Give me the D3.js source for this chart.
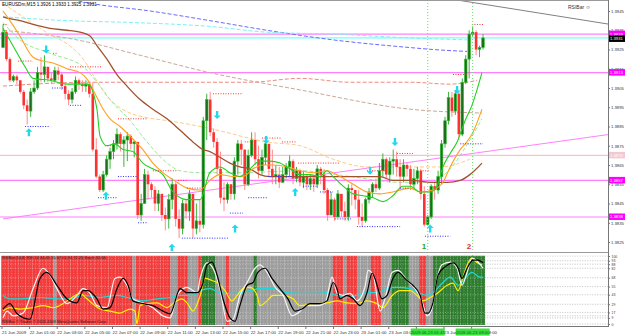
<!DOCTYPE html>
<html><head><meta charset="utf-8">
<script src="https://cdn.jsdelivr.net/npm/d3@7"></script>
<style>
body{margin:0;background:#fff;}
svg{display:block;font-family:"Liberation Sans",Arial,sans-serif;}
</style>
</head><body>
<script>
// EURUSDm M15 - candles
const open0 = 1.3926
const closes = [1.3934,1.3920,1.3909,1.3911,1.3909,1.3903,1.3896,1.3893,1.3903,1.3905,
1.3913,1.3912,1.3916,1.3910,1.3909,1.3914,1.3912,1.3906,1.3902,1.3899,
1.3903,1.3909,1.3907,1.3906,1.3907,1.3902,1.3873,1.3859,1.3852,1.3860,
1.3868,1.3872,1.3876,1.3881,1.3876,1.3878,1.3880,1.3876,1.3877,1.3839,
1.3845,1.3860,1.3855,1.3852,1.3845,1.3850,1.3839,1.3837,1.3847,1.3855,
1.3837,1.3832,1.3845,1.3841,1.3850,1.3832,1.3836,1.3834,1.3888,1.3899,
1.3882,1.3877,1.3863,1.3848,1.3847,1.3855,1.3850,1.3867,1.3876,1.3873,
1.3855,1.3870,1.3878,1.3868,1.3862,1.3869,1.3876,1.3863,1.3859,1.3860,
1.3856,1.3860,1.3864,1.3867,1.3858,1.3862,1.3856,1.3859,1.3855,1.3858,
1.3855,1.3863,1.3860,1.3852,1.3839,1.3847,1.3838,1.3850,1.3841,1.3838,
1.3853,1.3852,1.3847,1.3838,1.3836,1.3847,1.3851,1.3855,1.3853,1.3862,
1.3868,1.3860,1.3867,1.3868,1.3864,1.3859,1.3865,1.3863,1.3855,1.3858,
1.3862,1.3850,1.3834,1.3838,1.3854,1.3852,1.3859,1.3876,1.3888,1.3900,
1.3893,1.3902,1.3881,1.3908,1.3920,1.3933,1.3934,1.3925,1.3926,1.3931]
const highs = [1.3938,1.3935,1.3921,1.3912,1.3912,1.3909,1.3904,1.3899,1.3905,1.3909,
1.3916,1.3921,1.3922,1.3916,1.3913,1.3916,1.3916,1.3913,1.3908,1.3904,
1.3905,1.3911,1.3910,1.3909,1.3909,1.3908,1.3908,1.3879,1.3860,1.3862,
1.3870,1.3874,1.3878,1.3884,1.3882,1.3880,1.3882,1.3881,1.3878,1.3877,
1.3850,1.3863,1.3862,1.3856,1.3854,1.3852,1.3850,1.3843,1.3850,1.3858,
1.3856,1.3842,1.3847,1.3847,1.3852,1.3850,1.3845,1.3847,1.3890,1.3902,
1.3903,1.3884,1.3879,1.3872,1.3856,1.3856,1.3855,1.3869,1.3878,1.3878,
1.3873,1.3873,1.3882,1.3882,1.3875,1.3873,1.3879,1.3876,1.3873,1.3865,
1.3864,1.3864,1.3866,1.3870,1.3868,1.3864,1.3863,1.3862,1.3860,1.3860,
1.3859,1.3865,1.3864,1.3863,1.3853,1.3851,1.3848,1.3852,1.3850,1.3846,
1.3855,1.3855,1.3852,1.3852,1.3845,1.3848,1.3853,1.3856,1.3858,1.3866,
1.3871,1.3869,1.3869,1.3873,1.3872,1.3868,1.3868,1.3866,1.3865,1.3863,
1.3864,1.3863,1.3854,1.3839,1.3855,1.3856,1.3862,1.3878,1.3890,1.3903,
1.3903,1.3904,1.3903,1.3910,1.3922,1.3935,1.3937,1.3935,1.3927,1.3933]
const lows = [1.3926,1.3919,1.3908,1.3908,1.3907,1.3902,1.3894,1.3886,1.3890,1.3902,
1.3904,1.3908,1.3908,1.3908,1.3907,1.3908,1.3909,1.3904,1.3899,1.3896,
1.3897,1.3902,1.3904,1.3903,1.3903,1.3900,1.3872,1.3858,1.3851,1.3851,
1.3859,1.3863,1.3868,1.3873,1.3872,1.3864,1.3867,1.3873,1.3869,1.3837,
1.3836,1.3845,1.3847,1.3848,1.3841,1.3841,1.3836,1.3831,1.3832,1.3842,
1.3833,1.3827,1.3829,1.3837,1.3836,1.3827,1.3829,1.3830,1.3832,1.3878,
1.3880,1.3874,1.3860,1.3845,1.3841,1.3845,1.3847,1.3847,1.3860,1.3865,
1.3852,1.3854,1.3869,1.3865,1.3858,1.3860,1.3865,1.3859,1.3855,1.3855,
1.3853,1.3856,1.3858,1.3859,1.3855,1.3856,1.3854,1.3853,1.3852,1.3852,
1.3851,1.3853,1.3855,1.3850,1.3836,1.3841,1.3836,1.3838,1.3838,1.3836,
1.3836,1.3844,1.3842,1.3834,1.3833,1.3835,1.3845,1.3848,1.3851,1.3852,
1.3859,1.3858,1.3856,1.3860,1.3859,1.3852,1.3856,1.3859,1.3852,1.3853,
1.3855,1.3847,1.3833,1.3834,1.3837,1.3847,1.3850,1.3855,1.3874,1.3886,
1.3890,1.3891,1.3878,1.3880,1.3907,1.3910,1.3932,1.3922,1.3921,1.3925]

const priceTicks = [1.3945,1.3935,1.3925,1.3915,1.3905,1.3895,1.3885,1.3875,1.3865,1.3855,1.3845,1.3835,1.3825]
const timeLabels = ["21 Jun 2009","22 Jun 01:00","22 Jun 03:00","22 Jun 05:00","22 Jun 07:00","22 Jun 09:00",
  "22 Jun 11:00","22 Jun 13:00","22 Jun 15:00","22 Jun 17:00","22 Jun 19:00","22 Jun 21:00","22 Jun 23:00",
  "23 Jun 01:00","23 Jun 03:00","23 Jun 05:00","23 Jun 07:00","23 Jun 09:00"]

// moving averages [bar, price]
const maGreen = [[0,1.3936],[3.5,1.3925],[6.4,1.3916],[8.7,1.3910],[13.6,1.3909],[18.5,1.3907],[24.6,1.3907],[27.2,1.3894],[28.1,1.3880],[30.1,1.3875],[32.4,1.3876],[34.8,1.3873],[37.6,1.3872],[40.5,1.3866],[43.4,1.3863],[46.3,1.3860],[49.2,1.3851],[53.3,1.3847],[57.1,1.3847],[59.9,1.3861],[62.8,1.3864],[65.7,1.3861],[68.6,1.3859],[71.5,1.3863],[74.4,1.3867],[77.3,1.3867],[80.2,1.3866],[83.1,1.3863],[86,1.3860],[88.9,1.3860],[91.8,1.3859],[93.8,1.3862],[95.6,1.3859],[98.5,1.3854],[101.4,1.3850],[104.3,1.3849],[107.2,1.3848],[110,1.3846],[112.9,1.3849],[115.8,1.3854],[117.9,1.3854],[120.8,1.3851],[123.7,1.3851],[125.7,1.3854],[127.4,1.3864],[129.5,1.3871],[131.5,1.3877],[133.8,1.3888],[135.8,1.3896],[138.7,1.3913]]
const maOrange = [[0,1.3945],[2,1.3940],[4.9,1.3932],[8.7,1.3921],[11.6,1.3919],[14.5,1.3918],[18.5,1.3915],[22.3,1.3913],[24.6,1.3909],[26.1,1.3904],[29,1.3894],[31,1.3889],[33.9,1.3885],[36.8,1.3880],[40.5,1.3873],[43.4,1.3866],[46.3,1.3861],[50.4,1.3856],[53.3,1.3853],[57.1,1.3852],[59.9,1.3857],[62.8,1.3860],[66.6,1.3859],[69.5,1.3859],[72.4,1.3863],[75.3,1.3865],[78.2,1.3865],[82.2,1.3864],[86,1.3862],[89.8,1.3861],[93.8,1.3862],[97.6,1.3859],[101.4,1.3855],[105.4,1.3851],[109.2,1.3850],[112.9,1.3851],[117.9,1.3853],[120.8,1.3851],[124.5,1.3852],[127.4,1.3856],[129.5,1.3864],[132.4,1.3873],[134.3,1.3877],[136.1,1.3882],[138.7,1.3894]]
const maBrown = [[0,1.3942],[2,1.3941],[4.9,1.3940],[8.7,1.3938],[13.6,1.3936],[18.5,1.3935],[22.3,1.3934],[25.2,1.3932],[27.2,1.3927],[30.1,1.3920],[33,1.3912],[35.9,1.3906],[39.7,1.3899],[43.4,1.3894],[47.5,1.3889],[51.3,1.3883],[55,1.3877],[57.9,1.3873],[59.9,1.3872],[62.8,1.3869],[65.7,1.3866],[68.6,1.3864],[71.5,1.3863],[74.4,1.3860],[77.3,1.3859],[80.2,1.3859],[88.9,1.3859],[97.6,1.3859],[109.2,1.3859],[112.9,1.3857],[117.9,1.3857],[124.5,1.3856],[128.6,1.3856],[132.4,1.3857],[135.2,1.3860],[138.7,1.3866]]
const maLightGreen = [[0,1.3939],[4.9,1.3930],[13.6,1.3923],[23.2,1.3916],[28.1,1.3906],[31.9,1.3897],[35.9,1.3890],[41.7,1.3877],[47.5,1.3866],[51.3,1.3862],[57.1,1.3861],[68.6,1.3861],[86,1.3862],[100.5,1.3859],[115,1.3856],[123.7,1.3856],[129.5,1.3863],[135.2,1.3878],[138.7,1.3889]]
const maLightOrange = [[0,1.3949],[10.7,1.3936],[22.3,1.3922],[31,1.3899],[36.8,1.3892],[51.3,1.3887],[59.9,1.3884],[76.4,1.3877],[86,1.3875],[95.6,1.3868],[105.4,1.3864],[115,1.3864],[126.6,1.3864],[135.2,1.3868]]
const maTan = [[0,1.3935],[21.4,1.3930],[39.7,1.3922],[59.9,1.3913],[86,1.3904],[117.9,1.3894],[138.7,1.3892]]
const maSalmon = [[0,1.3906],[8.7,1.3907],[28.1,1.3908],[59.9,1.3908],[71.5,1.3908],[86,1.3910],[100.5,1.3908],[117.9,1.3908],[129.5,1.3907],[137.3,1.3909]]
const maBlue = [[10,1.3955],[25.2,1.3949],[42.6,1.3945],[59.9,1.3940],[76.4,1.3935],[95.6,1.3930],[117.9,1.3926],[124.5,1.3925],[134.4,1.3924]]
const maCyan = [[0,1.3942],[18.5,1.3940],[37.6,1.3939],[59.9,1.3937],[76.4,1.3934],[95.6,1.3933],[117.9,1.3931],[134.4,1.3930]]

// horizontal levels on the price axis
const levelPrices = [1.3933, 1.3913, 1.3870, 1.3857, 1.3838, 1.3931]
const levelColors = ["#ff80ff", "#ff80ff", "#f4c4cc", "#ff80ff", "#ff80ff", "#70ffff"]
const levelBoxes = ["#ff00ff", "#ff00ff", "#f2c8d2", "#ff00ff", "#ff00ff", null]

// trend lines [bar, price]
const trendMagenta = [[0,1.3837],[176,1.3881]]
const trendGray = [[120,1.3954],[176,1.3938]]
const vBars = [123, 136]
const vNames = ["1", "2"]
const vStamps = ["2009.06.23 05:45", "2009.06.23 09:00"]

// fractal levels [startBar, endBar, price]
const resLevels = [[0,1.2,1.3938],[4.3,8.7,1.3919],[14.5,15.9,1.3923],[19.4,28.7,1.3916],[29.5,32.4,1.3875],[33.3,41.7,1.3889],[43.4,50.4,1.3862],[50.7,53.3,1.3857],[53.3,57.9,1.3853],[60.8,69.5,1.3902],[70,72.4,1.3877],[75,80.8,1.3879],[80.8,85.1,1.3877],[85.4,97.6,1.3866],[105.4,111.2,1.3862],[114.1,118.7,1.3871],[120.8,123.7,1.3862],[130.3,134.7,1.3912],[135.8,139,1.3938]]
const supLevels = [[6.4,13.6,1.3885],[14.2,18,1.3905],[19.4,22.9,1.3896],[27.5,33,1.3848],[33.3,38.8,1.3859],[39.1,42,1.3835],[51.8,65.2,1.3827],[65.7,69.5,1.3840],[71,76.5,1.3848],[76.7,83.7,1.3859],[86.9,91.2,1.3854],[91.8,95.6,1.3851],[96.1,101.1,1.3837],[102.5,115,1.3833],[115,117.9,1.3853],[122.2,129.5,1.3828],[132.4,139,1.3876]]

// signal arrows [bar, price, direction]
const arrows = [[7.5,1.3882,1],[12.5,1.3925,-1],[29.8,1.3849,1],[48.9,1.3822,1],[62,1.3891,-1],[67.2,1.3832,1],[76.2,1.3878,-1],[84.6,1.3851,1],[106.3,1.3862,-1],[113.5,1.3877,-1],[123.7,1.3832,1],[131.5,1.3904,-1]]

// RSIBar indicator
const stateRuns = [["r",15],["n",1],["r",22],["n",1],["r",10],["n",2],["r",3],["n",3],["r",1],["g",4],["n",3],["r",1],["n",7],["g",1],["n",22],["r",3],["n",1],["r",3],["n",4],["r",3],["n",3],["g",5],["n",3],["r",2],["n",2],["g",15]]
const indLevels = [100,93,88,82,68,55,43,29,17,12,9,0]
const indLabels = [100,93,88,82,68,55,43,29,17,9,0]
const indBlack = [[0,22],[2,30],[4.1,15],[7.8,7],[10.7,67],[12.7,76],[15.6,57],[18.5,37],[21.4,31],[23.2,49],[24.6,49],[27.2,37],[29,22],[31,24],[33,52],[34.8,67],[36.2,57],[37.6,34],[40.5,30],[43.4,27],[46.3,19],[48.4,15],[51.3,52],[53.3,46],[56.2,46],[57.9,60],[59.1,87],[60.5,91],[62,72],[63.7,37],[65.7,9],[67.2,4],[68.6,27],[70.7,57],[72.4,61],[73.8,76],[75.9,82],[77.9,67],[80.2,52],[82.5,37],[84.6,19],[86.6,22],[88.9,30],[91.8,30],[93.8,34],[95.6,61],[96.7,52],[97.6,37],[99.6,42],[101.4,37],[103.4,27],[105.4,46],[106.9,75],[107.7,67],[109.8,37],[111.2,42],[112.9,67],[114.4,76],[117,64],[118.7,57],[120.8,42],[122.2,16],[123.1,16],[124.5,31],[126,72],[128,84],[130.3,90],[131.8,82],[132.9,67],[134.4,82],[136.1,94],[137.6,94],[139,90]]
const indWhite = [[0,9],[1.2,19],[2.9,12],[5.8,16],[8.7,52],[11.6,82],[13.6,72],[15.6,52],[18.5,30],[21.4,42],[23.2,52],[25.2,45],[27.2,27],[30.1,24],[32.4,67],[33.9,69],[35.9,57],[37.6,37],[40.5,31],[43.4,24],[46.3,12],[48.4,9],[50.4,42],[53.3,54],[56.2,46],[57.1,67],[59.1,90],[60.8,82],[62.8,52],[64.9,4],[66.6,7],[68.6,42],[70.7,61],[73,82],[74.4,87],[76.5,76],[78.8,54],[81.1,42],[83.7,12],[85.4,16],[88,27],[90.9,27],[93.3,31],[95.3,69],[96.7,46],[98.5,42],[100.5,45],[102.5,34],[104.8,54],[105.7,79],[107.2,72],[109.2,19],[110.6,37],[112.7,76],[114.4,79],[117,64],[119.3,52],[121.3,34],[122.8,12],[124.2,22],[125.7,67],[127.1,87],[129.5,91],[131.5,82],[132.9,57],[134.4,76],[135.8,97],[137.6,91],[139,82]]
const indCyan = [[0,42],[2,37],[4.9,37],[10.7,39],[15.6,37],[19.4,37],[23.2,42],[28.1,39],[33,42],[35.9,39],[37.6,37],[40.5,34],[44.6,37],[48.4,39],[51.3,42],[55,42],[57.1,49],[59.9,52],[62.8,46],[65.7,45],[68.6,46],[71.5,49],[74.4,52],[78.2,52],[82.2,46],[86,45],[89.8,45],[93.8,46],[96.7,42],[99.6,39],[102.5,42],[105.4,46],[108.3,46],[111.2,52],[114.1,54],[117.9,52],[120.8,45],[122.8,42],[124.5,46],[127.4,61],[129.5,69],[131.8,57],[133.8,67],[135.8,76],[138.1,69],[139,69]]
const indYellow = [[0,19],[2,24],[4.9,22],[8.7,24],[11.6,27],[14.5,24],[17.4,30],[20,39],[22.3,45],[24.3,37],[28.1,22],[31,19],[33.9,16],[36.8,22],[38.2,19],[38.8,0],[39.7,27],[41.7,30],[44.6,31],[47.5,24],[49.2,30],[51.8,37],[53.3,31],[55,19],[57.1,42],[58.5,67],[60.5,64],[62.3,60],[64.3,49],[66.3,34],[67.8,42],[69.5,52],[71.5,54],[73.6,42],[74.4,27],[76.5,34],[78.2,42],[81.1,42],[84,37],[86,27],[89.8,30],[93.8,31],[96.7,34],[99.6,31],[102.5,30],[105.4,34],[108.3,30],[110,24],[112.7,42],[115,49],[117.9,49],[119.9,42],[121.6,34],[123.7,39],[125.7,45],[128.6,57],[130.3,60],[131.8,49],[133.2,69],[134.7,90],[135.8,97],[137.3,90],[138.7,87]]

const W = 625, H = 336
const axisX = 608.5
const mainBottom = 251
const indTop = 255.5, indBottom = 325

const svg = d3.select("body").append("svg").attr("width", W).attr("height", H)
svg.append("rect").attr("width", W).attr("height", H).attr("fill", "#fff")

const x = d3.scaleLinear().domain([0, 139]).range([3, 483])
const y = d3.scaleLinear().domain([1.3825, 1.3945]).range([242, 11])
const yi = d3.scaleLinear().domain([0, 100]).range([324, 256])
const step = x(1) - x(0)

svg.append("clipPath").attr("id", "cm").append("rect").attr("x", 0).attr("y", 0).attr("width", axisX).attr("height", mainBottom)
svg.append("clipPath").attr("id", "ci").append("rect").attr("x", 0).attr("y", indTop).attr("width", axisX).attr("height", indBottom - indTop)

const main = svg.append("g").attr("clip-path", "url(#cm)")
const line = d3.line().x(d => x(d[0])).y(d => y(d[1])).curve(d3.curveMonotoneX)

// horizontal levels
levelPrices.forEach((p, k) => {
  main.append("line").attr("x1", 0).attr("x2", axisX).attr("y1", y(p)).attr("y2", y(p))
    .attr("stroke", levelColors[k]).attr("stroke-width", 1.2)
})

// slow dashed averages
const dashed = [[maBlue, "#6a6aff"], [maCyan, "#7df0f0"], [maTan, "#caa898"], [maSalmon, "#f08a80"], [maLightOrange, "#ffcc88"], [maLightGreen, "#9be89b"]]
dashed.forEach(([d, c]) => {
  main.append("path").datum(d).attr("d", line).attr("fill", "none")
    .attr("stroke", c).attr("stroke-width", 1).attr("stroke-dasharray", "4,2")
})

// trend lines
const straight = d3.line().x(d => x(d[0])).y(d => y(d[1]))
main.append("path").datum(trendMagenta).attr("d", straight)
  .attr("stroke", "#ff80ff").attr("stroke-width", 1).attr("fill", "none")
main.append("path").datum(trendGray).attr("d", straight)
  .attr("stroke", "#808080").attr("stroke-width", 1).attr("fill", "none")

// candles
const bars = closes.map((c, i) => ({ i, o: i ? closes[i - 1] : open0, h: highs[i], l: lows[i], c }))
const colOf = d => d.c > d.o ? "g" : d.c < d.o ? "r" : "n"
main.selectAll(".wick").data(bars).join("line")
  .attr("x1", d => x(d.i)).attr("x2", d => x(d.i))
  .attr("y1", d => y(d.h)).attr("y2", d => y(d.l))
  .attr("stroke", d => ({ g: "#3cb43c", r: "#ff8c8c", n: "#999" })[colOf(d)]).attr("stroke-width", 1)
main.selectAll(".body").data(bars).join("rect")
  .attr("x", d => x(d.i) - 1.3).attr("width", 2.6)
  .attr("y", d => y(Math.max(d.o, d.c)))
  .attr("height", d => Math.max(1, Math.abs(y(d.o) - y(d.c))))
  .attr("fill", d => ({ g: "#1d6e1d", r: "#ff3030", n: "#999" })[colOf(d)])
  .attr("stroke", d => colOf(d) === "g" ? "#2fbf2f" : "none").attr("stroke-width", 0.6)

// fast averages on top
;[[maBrown, "#a0522d", 1.3], [maOrange, "#ffa020", 1.1], [maGreen, "#22d022", 1.1]].forEach(([d, c, w]) => {
  main.append("path").datum(d).attr("d", line).attr("fill", "none").attr("stroke", c).attr("stroke-width", w)
})

// fractal levels
main.selectAll(".res").data(resLevels).join("line")
  .attr("x1", d => x(d[0])).attr("x2", d => x(d[1])).attr("y1", d => y(d[2])).attr("y2", d => y(d[2]))
  .attr("stroke", "#ff3030").attr("stroke-width", 1).attr("stroke-dasharray", "1,1.5")
main.selectAll(".sup").data(supLevels).join("line")
  .attr("x1", d => x(d[0])).attr("x2", d => x(d[1])).attr("y1", d => y(d[2])).attr("y2", d => y(d[2]))
  .attr("stroke", "#3030ff").attr("stroke-width", 1).attr("stroke-dasharray", "1,1.5")

// arrows
function arrowPath(cx, cy, dir) {
  const p = d3.path()
  const pts = [[0, -4], [3.5, -0.5], [1.2, -0.5], [1.2, 4], [-1.2, 4], [-1.2, -0.5], [-3.5, -0.5]]
  pts.forEach(([dx, dy], k) => {
    const px = cx + dx, py = cy + dy * dir
    k ? p.lineTo(px, py) : p.moveTo(px, py)
  })
  p.closePath()
  return p.toString()
}
main.selectAll(".arr").data(arrows).join("path")
  .attr("d", d => arrowPath(x(d[0]), y(d[1]), d[2]))
  .attr("fill", "#22d8ee")

// vertical lines 1 / 2
vBars.forEach((b, k) => {
  svg.append("line").attr("x1", x(b)).attr("x2", x(b)).attr("y1", 0).attr("y2", indBottom + 1)
    .attr("stroke", "#66dd66").attr("stroke-width", 1).attr("stroke-dasharray", "1,2")
  svg.append("text").attr("x", x(b) - 1.5).attr("y", 249).attr("text-anchor", "end")
    .attr("font-size", 8).attr("font-weight", "bold").attr("fill", k ? "#e03030" : "#22aa22").text(vNames[k])
})

// header text
const last = bars[bars.length - 1]
const f4 = d3.format(".4f")
svg.append("text").attr("x", 2).attr("y", 6).attr("font-size", 4.6).attr("fill", "#000")
  .text(`EURUSDm,M15  ${f4(last.o)} ${f4(last.h)} ${f4(last.l)} ${f4(last.c)}`)
svg.append("text").attr("x", 568).attr("y", 9).attr("font-size", 5).attr("fill", "#333").text("RSIBar ☺")

// ---- indicator panel
const states = stateRuns.flatMap(([s, n]) => Array(n).fill(s))
const ind = svg.append("g").attr("clip-path", "url(#ci)")
ind.selectAll(".bg").data(states).join("rect")
  .attr("x", (d, i) => x(i) - step / 2).attr("width", step + 0.3)
  .attr("y", indTop).attr("height", indBottom - indTop)
  .attr("fill", d => ({ r: "#f23c3c", n: "#9c9c9c", g: "#2f7d2f" })[d])
ind.selectAll(".vg").data(states).join("line")
  .attr("x1", (d, i) => x(i) + step / 2).attr("x2", (d, i) => x(i) + step / 2)
  .attr("y1", indTop).attr("y2", indBottom)
  .attr("stroke", "#fff").attr("stroke-opacity", 0.45).attr("stroke-width", 0.6).attr("stroke-dasharray", "1,1.5")
const xEnd = x(states.length - 1) + step / 2
indLevels.forEach(v => {
  ind.append("line").attr("x1", 0).attr("x2", xEnd).attr("y1", yi(v)).attr("y2", yi(v))
    .attr("stroke", "#fff").attr("stroke-opacity", 0.6).attr("stroke-width", 0.6).attr("stroke-dasharray", "1,1.5")
  ind.append("line").attr("x1", xEnd).attr("x2", axisX).attr("y1", yi(v)).attr("y2", yi(v))
    .attr("stroke", "#999").attr("stroke-width", 0.6).attr("stroke-dasharray", "1,1.5")
})
const iline = d3.line().x(d => x(d[0])).y(d => yi(d[1])).curve(d3.curveMonotoneX)
;[[indCyan, "#20d8d8"], [indYellow, "#ffee00"], [indWhite, "#f4f4f4"], [indBlack, "#000"]].forEach(([d, c]) => {
  ind.append("path").datum(d).attr("d", iline).attr("fill", "none").attr("stroke", c).attr("stroke-width", 1.2)
})
svg.append("text").attr("x", 2).attr("y", 259).attr("font-size", 4).attr("fill", "#222")
  .text("RSIBar(14,8)  RSI 14  34.45  55.67  61.94  72.25  Stoch  32.66")
svg.append("text").attr("x", 2).attr("y", 323).attr("font-size", 4).attr("fill", "#222")
  .text("RSIBar © Trader  © 2005-2009 MetaQuotes Software Corp.")

// frame lines
svg.append("line").attr("x1", 0).attr("x2", axisX).attr("y1", 0.5).attr("y2", 0.5).attr("stroke", "#999")
svg.append("line").attr("x1", 0).attr("x2", axisX).attr("y1", 252.5).attr("y2", 252.5).attr("stroke", "#999")
svg.append("line").attr("x1", 0).attr("x2", axisX).attr("y1", 326.5).attr("y2", 326.5).attr("stroke", "#777")
svg.append("line").attr("x1", axisX).attr("x2", axisX).attr("y1", 0).attr("y2", 327).attr("stroke", "#777")

// price axis
const pa = svg.append("g").attr("transform", `translate(${axisX},0)`)
  .call(d3.axisRight(y).tickValues(priceTicks).tickFormat(f4).tickSize(1.5).tickPadding(1))
pa.select(".domain").remove()
pa.selectAll("text").attr("font-size", 4.2).attr("fill", "#333").attr("font-family", "Liberation Sans, Arial")
pa.selectAll("line").attr("stroke", "#777")

// level boxes on the axis
levelPrices.forEach((p, k) => {
  if (!levelBoxes[k]) return
  svg.append("rect").attr("x", axisX + 0.5).attr("y", y(p) - 3.5).attr("width", 16).attr("height", 6.5).attr("fill", levelBoxes[k])
  svg.append("text").attr("x", axisX + 1.5).attr("y", y(p) + 1.4).attr("font-size", 4.2).attr("fill", "#fff").text(f4(p))
})
svg.append("rect").attr("x", axisX + 0.5).attr("y", y(last.c) - 2.5).attr("width", 16).attr("height", 6.5).attr("fill", "#000")
svg.append("text").attr("x", axisX + 1.5).attr("y", y(last.c) + 2.4).attr("font-size", 4.2).attr("fill", "#fff").text(f4(last.c))

// indicator axis labels
const ia = svg.append("g").attr("transform", `translate(${axisX},0)`)
  .call(d3.axisRight(yi).tickValues(indLabels).tickFormat(d3.format("d")).tickSize(1.5).tickPadding(1.5))
ia.select(".domain").remove()
ia.selectAll("text").attr("font-size", 3.4).attr("fill", "#333")
ia.selectAll("line").attr("stroke", "#777")

// time axis (labels under the green time stamps are covered, as in the terminal)
const stampSpans = vBars.map(b => [x(b) - 17, x(b) + 17])
const ta = svg.append("g")
timeLabels.forEach((t, k) => {
  const bx = x(k * 8) - 1
  const covered = stampSpans.some(([a, b]) => bx >= a && bx + 22 <= b)
  ta.append("line").attr("x1", bx).attr("x2", bx).attr("y1", 326).attr("y2", 329).attr("stroke", "#777")
  if (!covered) ta.append("text").attr("x", bx).attr("y", 334).attr("font-size", 4.4).attr("fill", "#333").text(t)
})
vBars.forEach((b, k) => {
  svg.append("rect").attr("x", x(b) - 17).attr("y", 328.5).attr("width", 34).attr("height", 7).attr("fill", "#3ee03e")
  svg.append("text").attr("x", x(b)).attr("y", 334).attr("text-anchor", "middle").attr("font-size", 4.4)
    .attr("fill", "#063").text(vStamps[k])
})
</script>
</body></html>
